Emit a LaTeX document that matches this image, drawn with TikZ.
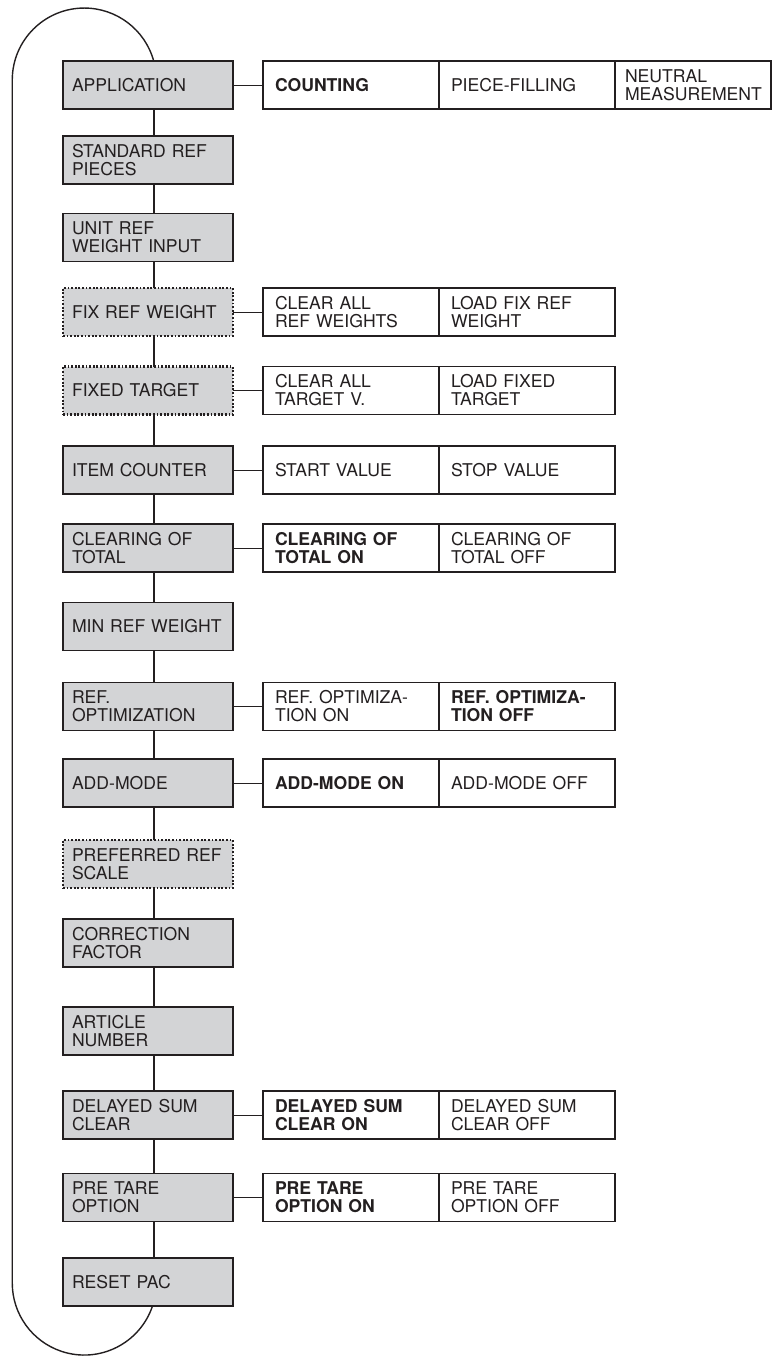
\documentclass[tikz,border=0pt]{standalone}
\usepackage{fontspec}
\setmainfont{TeX Gyre Heros}
\usetikzlibrary{positioning,calc}
\definecolor{boxgray}{RGB}{211,212,214}
\definecolor{ink}{RGB}{35,31,32}
\tikzset{
  menubox/.style={draw=ink,fill=boxgray,line width=0.8pt,outer sep=0pt,
    text width=76pt,inner xsep=4.5pt,minimum height=24pt,align=left,
    font=\fontsize{8.8}{9}\selectfont,text=ink},
  optmenu/.style={menubox,dash pattern=on 0.9pt off 0.9pt,line width=1.1pt}, % optional menu item
  choice/.style={draw=ink,fill=white,line width=0.8pt,outer sep=0pt,
    text width=76pt,inner xsep=6pt,minimum height=24pt,align=left,
    font=\fontsize{8.8}{9}\selectfont,text=ink},
  choicen/.style={choice,text width=68pt,inner xsep=5pt},
  sel/.style={font=\fontsize{8.8}{9}\selectfont\bfseries}, % preset choice
  vlink/.style={draw=ink,line width=0.8pt},
  hlink/.style={draw=ink,line width=0.5pt},
  loopln/.style={draw=ink,line width=0.7pt},
}

\begin{document}
\begin{tikzpicture}[x=5pt,y=5pt]
  \useasboundingbox (0,0) rectangle (77.2,-135.6);
  % menu column
  \foreach \nm/\yy/\sty/\txt in {
    app/8.5/menubox/{APPLICATION},
    stdref/16.0/menubox/{STANDARD REF\\PIECES},
    unitref/23.75/menubox/{UNIT REF\\WEIGHT INPUT},
    fixw/31.2/optmenu/{FIX REF WEIGHT},
    fixt/39.05/optmenu/{FIXED TARGET},
    itemc/47.0/menubox/{ITEM COUNTER},
    clrtot/54.8/menubox/{CLEARING OF\\TOTAL},
    minref/62.65/menubox/{MIN REF WEIGHT},
    refopt/70.65/menubox/{REF.\\OPTIMIZATION},
    addm/78.3/menubox/{ADD-MODE},
    prefs/86.4/optmenu/{PREFERRED REF\\SCALE},
    corr/94.3/menubox/{CORRECTION\\FACTOR},
    artn/103.1/menubox/{ARTICLE\\NUMBER},
    dsum/111.5/menubox/{DELAYED SUM\\CLEAR},
    ptare/119.75/menubox/{PRE TARE\\OPTION},
    reset/128.2/menubox/{RESET PAC}}{
    \node[\sty] (\nm) at (14.8,-\yy) {\txt};
  }
  \foreach \a/\b in {app/stdref,stdref/unitref,unitref/fixw,fixw/fixt,fixt/itemc,
    itemc/clrtot,clrtot/minref,minref/refopt,refopt/addm,addm/prefs,prefs/corr,
    corr/artn,artn/dsum,dsum/ptare,ptare/reset}
    \draw[vlink] ([xshift=3pt]\a.south) -- ([xshift=3pt]\b.north);
  % back to the start
  \draw[loopln] ($(reset.south)+(0.45,0)$) arc[start angle=-18.6,end angle=-180,radius=7.2]
    -- ++(0,120.3) arc[start angle=180,end angle=15.3,radius=7.2];

  % settings
  \node[choice,sel,right=15pt of app] (app1) {COUNTING};
  \node[choice,right=0pt of app1] (app2) {PIECE-FILLING};
  \node[choicen,right=0pt of app2] (app3) {NEUTRAL\\MEASUREMENT};
  \node[choice,right=15pt of fixw] (fixw1) {CLEAR ALL\\REF WEIGHTS};
  \node[choice,right=0pt of fixw1] (fixw2) {LOAD FIX REF\\WEIGHT};
  \node[choice,right=15pt of fixt] (fixt1) {CLEAR ALL\\TARGET V.};
  \node[choice,right=0pt of fixt1] (fixt2) {LOAD FIXED\\TARGET};
  \node[choice,right=15pt of itemc] (itemc1) {START VALUE};
  \node[choice,right=0pt of itemc1] (itemc2) {STOP VALUE};
  \node[choice,sel,right=15pt of clrtot] (clrtot1) {CLEARING OF\\TOTAL ON};
  \node[choice,right=0pt of clrtot1] (clrtot2) {CLEARING OF\\TOTAL OFF};
  \node[choice,right=15pt of refopt] (refopt1) {REF. OPTIMIZA-\\TION ON};
  \node[choice,sel,right=0pt of refopt1] (refopt2) {REF. OPTIMIZA-\\TION OFF};
  \node[choice,sel,right=15pt of addm] (addm1) {ADD-MODE ON};
  \node[choice,right=0pt of addm1] (addm2) {ADD-MODE OFF};
  \node[choice,sel,right=15pt of dsum] (dsum1) {DELAYED SUM\\CLEAR ON};
  \node[choice,right=0pt of dsum1] (dsum2) {DELAYED SUM\\CLEAR OFF};
  \node[choice,sel,right=15pt of ptare] (ptare1) {PRE TARE\\OPTION ON};
  \node[choice,right=0pt of ptare1] (ptare2) {PRE TARE\\OPTION OFF};
  \foreach \nm in {app,fixw,fixt,itemc,clrtot,refopt,addm,dsum,ptare}
    \draw[hlink] (\nm) -- (\nm1);
\end{tikzpicture}
\end{document}
